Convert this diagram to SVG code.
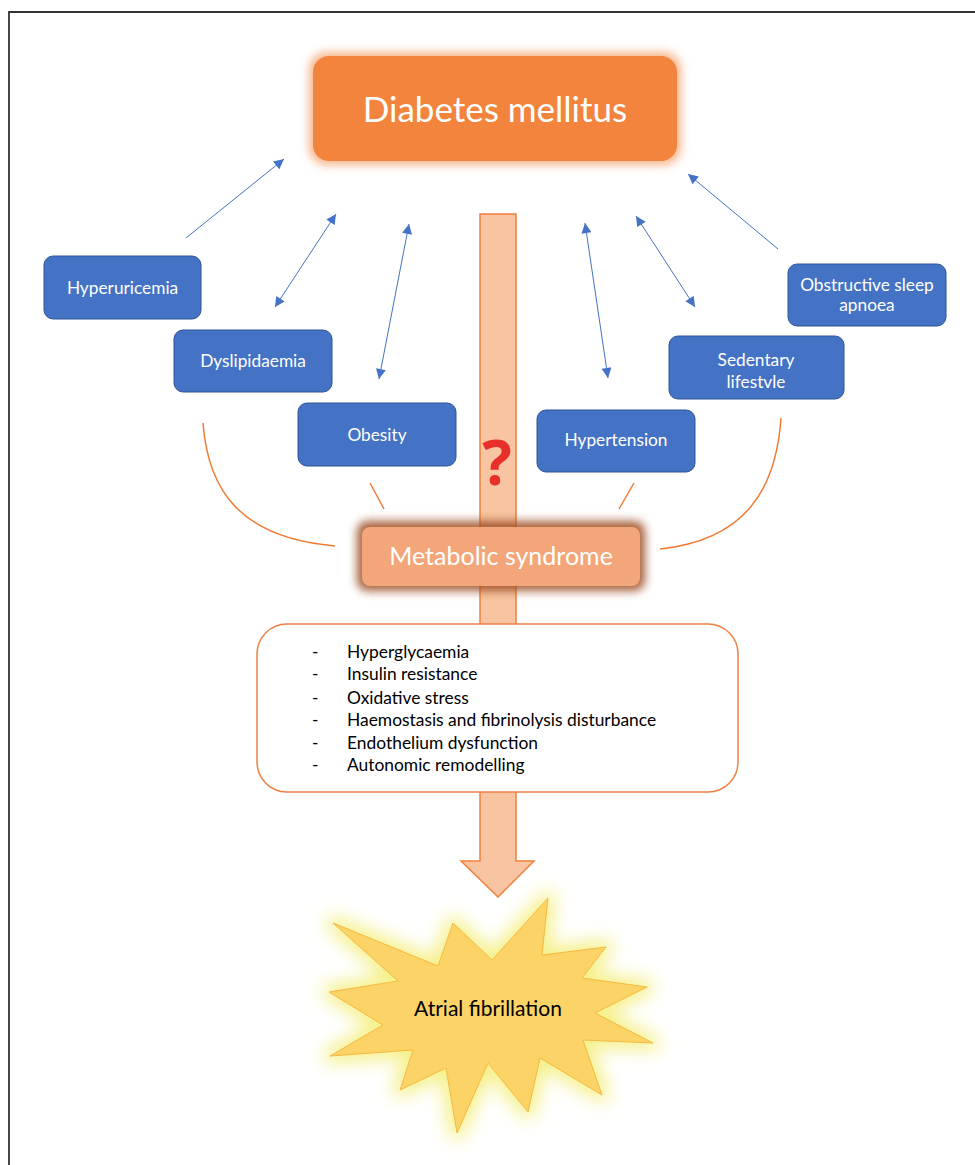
<svg xmlns="http://www.w3.org/2000/svg" width="975" height="1165" viewBox="0 0 975 1165">
<style>
.blue{fill:#4472C4;stroke:#2F5597;stroke-width:1}
.bt{font-family:Lato,"Open Sans",sans-serif;font-size:17.3px;fill:#fff;text-anchor:middle}
.conn{stroke:#4472C4;stroke-width:1;fill:none}
.ol{stroke:#F07B35;stroke-width:1.5;fill:none}
.li{font-family:Lato,"Open Sans",sans-serif;font-size:17.4px;fill:#000}
</style>
<defs>
<marker id="ah" viewBox="0 0 10 10" refX="10" refY="5" markerWidth="12" markerHeight="10" markerUnits="userSpaceOnUse" orient="auto-start-reverse">
<path d="M0,0 L10,5 L0,10 z" fill="#4472C4"/>
</marker>
<filter id="glowO" x="-20%" y="-30%" width="140%" height="160%"><feGaussianBlur stdDeviation="5"/></filter>
<filter id="glowB" x="-20%" y="-40%" width="140%" height="180%"><feGaussianBlur stdDeviation="5"/></filter>
<filter id="glowY" x="-20%" y="-20%" width="140%" height="140%"><feGaussianBlur stdDeviation="9"/></filter>
</defs>
<rect width="975" height="1165" fill="#fff"/>
<path d="M9,1165 L9,12 L975,12" fill="none" stroke="#333" stroke-width="1.8"/>

<g id="big-arrow">
<path d="M480,214 L516,214 L516,861 L534,861 L498,897 L461,861 L480,861 z" fill="#F8C4A2" stroke="#F07F3C" stroke-width="1.5"/>
</g>

<g id="connectors">
<line class="conn" x1="186" y1="238" x2="284" y2="159" marker-end="url(#ah)"/>
<line class="conn" x1="275" y1="307" x2="336" y2="214" marker-start="url(#ah)" marker-end="url(#ah)"/>
<line class="conn" x1="379" y1="379" x2="409" y2="224" marker-start="url(#ah)" marker-end="url(#ah)"/>
<line class="conn" x1="608" y1="378" x2="585" y2="223" marker-start="url(#ah)" marker-end="url(#ah)"/>
<line class="conn" x1="695" y1="307" x2="636" y2="216" marker-start="url(#ah)" marker-end="url(#ah)"/>
<line class="conn" x1="778" y1="249" x2="688" y2="174" marker-end="url(#ah)"/>
<path class="ol" d="M203,423 C208,490 240,538 335,546"/>
<line class="ol" x1="370" y1="483" x2="384" y2="509"/>
<line class="ol" x1="634" y1="483" x2="619" y2="509"/>
<path class="ol" d="M781,418 C776,490 745,540 660,549"/>
</g>

<g id="diabetes">
<rect x="309" y="52" width="372" height="113" rx="18" fill="#F7B48A" filter="url(#glowO)"/>
<rect x="313" y="56" width="364" height="105" rx="16" fill="#F2843D"/>
<text x="495" y="122" font-family="Lato,'Open Sans',sans-serif" font-size="35" fill="#fff" text-anchor="middle">Diabetes mellitus</text>
</g>

<g id="hyperuricemia">
<rect class="blue" x="44" y="256" width="157" height="63" rx="9"/>
<text class="bt" x="122.5" y="294">Hyperuricemia</text>
</g>
<g id="dyslipidaemia">
<rect class="blue" x="174" y="330" width="158" height="62" rx="9"/>
<text class="bt" x="253" y="367">Dyslipidaemia</text>
</g>
<g id="obesity">
<rect class="blue" x="298" y="403" width="158" height="63" rx="9"/>
<text class="bt" x="377" y="441">Obesity</text>
</g>
<g id="hypertension">
<rect class="blue" x="537" y="410" width="158" height="62" rx="9"/>
<text class="bt" x="616" y="446">Hypertension</text>
</g>
<g id="sedentary">
<rect class="blue" x="669" y="336" width="175" height="63" rx="9"/>
<text class="bt" x="756" y="366">Sedentary</text>
<text class="bt" x="756" y="388">lifestvle</text>
</g>
<g id="osa">
<rect class="blue" x="788" y="264" width="158" height="62" rx="9"/>
<text class="bt" x="867" y="291" font-size="15">Obstructive sleep</text>
<text class="bt" x="867" y="311" font-size="15">apnoea</text>
</g>

<g id="question">
<text x="497" y="485" font-family="'Open Sans',Lato,sans-serif" font-weight="bold" font-size="62" fill="#E8302A" text-anchor="middle">?</text>
</g>

<g id="metabolic">
<rect x="357" y="521" width="288" height="70" rx="10" fill="#9E5028" opacity="0.9" filter="url(#glowB)"/>
<rect x="362" y="527" width="278" height="59" rx="8" fill="#F3A679"/>
<text x="501" y="565" font-family="Lato,'Open Sans',sans-serif" font-size="25" fill="#fff" text-anchor="middle">Metabolic syndrome</text>
</g>

<g id="mechanisms">
<rect x="257" y="624" width="481" height="168" rx="30" fill="#fff" stroke="#F08040" stroke-width="1.5"/>
<g class="li">
<text x="312" y="658">-</text><text x="347" y="658">Hyperglycaemia</text>
<text x="312" y="680">-</text><text x="347" y="680">Insulin resistance</text>
<text x="312" y="704">-</text><text x="347" y="704">Oxidative stress</text>
<text x="312" y="726">-</text><text x="347" y="726">Haemostasis and fibrinolysis disturbance</text>
<text x="312" y="749">-</text><text x="347" y="749">Endothelium dysfunction</text>
<text x="312" y="771">-</text><text x="347" y="771">Autonomic remodelling</text>
</g>
</g>

<g id="atrial-fibrillation">
<polygon points="548,898 542,955 606,947 582,978 647,987 595,1013 653,1043 583,1040 602,1095 540,1058 528,1112 488,1063 457,1133 446,1068 400,1090 413,1050 330,1056 383,1025 329,992 398,981 333,923 438,966 453,923 492,960" fill="#F5F08A" stroke="#F5F08A" stroke-width="14" stroke-linejoin="round" filter="url(#glowY)"/>
<polygon points="548,898 542,955 606,947 582,978 647,987 595,1013 653,1043 583,1040 602,1095 540,1058 528,1112 488,1063 457,1133 446,1068 400,1090 413,1050 330,1056 383,1025 329,992 398,981 333,923 438,966 453,923 492,960" fill="#FCD366" stroke="#F6B93F" stroke-width="1"/>
<text x="488" y="1016" font-family="Lato,'Open Sans',sans-serif" font-size="21" fill="#000" text-anchor="middle">Atrial fibrillation</text>
</g>
</svg>
